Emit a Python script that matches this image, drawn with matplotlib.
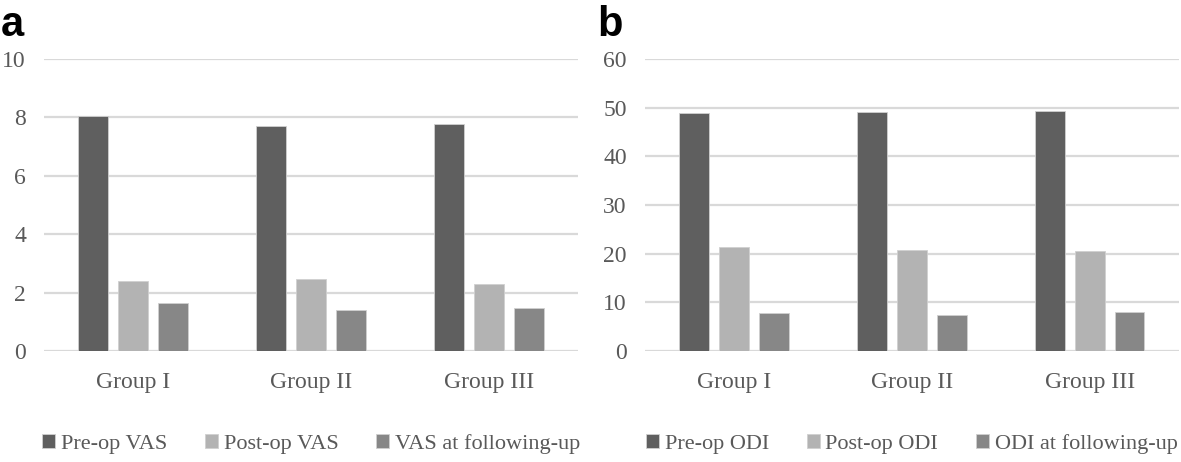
#!/usr/bin/env python3
import numpy as np
import matplotlib
matplotlib.use("Agg")
import matplotlib.pyplot as plt

groups = ["Group I", "Group II", "Group III"]

vas_pre = [8.06, 7.69, 7.77]
vas_post = [2.40, 2.45, 2.31]
vas_follow = [1.66, 1.41, 1.46]
vas_labels = ["Pre-op VAS", "Post-op VAS", "VAS at following-up"]

odi_pre = [48.9, 49.1, 49.4]
odi_post = [21.4, 20.7, 20.5]
odi_follow = [7.8, 7.4, 8.1]
odi_labels = ["Pre-op ODI", "Post-op ODI", "ODI at following-up"]

colors = ["#5f5f5f", "#b3b3b3", "#878787"]
text_col = "#595959"

plt.rcParams["font.family"] = ["Liberation Serif", "DejaVu Serif"]

fig = plt.figure(figsize=(11.81, 4.62), dpi=100)


def panel(rect, series, labels, ymax, step, letter, letter_x):
	ax = fig.add_axes(rect)
	x = np.arange(len(groups))
	w = 0.168
	offs = [-0.224, 0.0, 0.224]
	for vals, lab, c, o in zip(series, labels, colors, offs):
		ax.bar(x + o, vals, w, color=c, edgecolor="#d0d0d0", linewidth=0.6,
			label=lab, zorder=3)
	ax.set_xlim(-0.5, len(groups) - 0.5)
	ax.set_ylim(0, ymax)
	ax.set_yticks(np.arange(0, ymax + 0.1, step))
	ax.set_xticks(x)
	ax.set_xticklabels(groups)
	ax.grid(axis="y", color="#d9d9d9", linewidth=1.6, zorder=0)
	for s in ax.spines.values():
		s.set_visible(False)
	ax.tick_params(length=0, labelsize=17, colors=text_col)
	ax.tick_params(axis="y", pad=13)
	ax.tick_params(axis="x", pad=15)
	ax.legend(loc="upper center", bbox_to_anchor=(0.5, -0.215), ncol=3,
		frameon=False, prop={"family": ["Liberation Serif"], "size": 16},
		labelcolor=text_col,
		handlelength=0.6, handleheight=0.6, handletextpad=0.25,
		columnspacing=1.7)
	fig.text(letter_x, 0.99, letter, fontsize=30, fontweight="bold",
		family="Liberation Sans", va="top", ha="left")
	return ax


panel([0.0373, 0.2403, 0.452, 0.632], [vas_pre, vas_post, vas_follow],
	vas_labels, 10, 2, "a", 0.001)
panel([0.546, 0.2403, 0.452, 0.632], [odi_pre, odi_post, odi_follow],
	odi_labels, 60, 10, "b", 0.506)

fig.savefig("out.png", dpi=100)
